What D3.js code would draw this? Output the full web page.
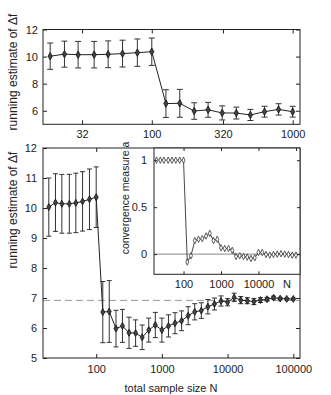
<!DOCTYPE html>
<html>
<head>
<meta charset="utf-8">
<script src="https://cdn.jsdelivr.net/npm/d3@7"></script>
<style>
  body { margin: 0; background: #fff; }
  svg text { font-family: "Liberation Sans", Arial, sans-serif; fill: #222; }
</style>
</head>
<body>
<div id="chart"></div>
<script>
// total sample size N
var sampleN = [19, 24, 30, 39, 49, 62, 79, 100,
  126, 158, 200, 251, 316, 398, 501, 631, 794, 1000,
  1259, 1585, 1995, 2512, 3162, 3981, 5012, 6310, 7943, 10000,
  12589, 15849, 19953, 25119, 31623, 39811, 50119, 63096, 79433, 100000];
// running estimate of delta f
var estimate = [10.03, 10.18, 10.14, 10.14, 10.17, 10.22, 10.29, 10.36,
  6.53, 6.55, 5.98, 6.07, 5.84, 5.83, 5.69, 5.93, 6.10, 5.93,
  6.07, 6.16, 6.24, 6.41, 6.54, 6.58, 6.71, 6.80, 6.90, 6.86,
  7.02, 6.93, 6.91, 6.88, 6.93, 6.96, 7.01, 6.98, 6.97, 6.97];
// error bar half widths
var errBar = [0.97, 0.96, 0.98, 0.98, 0.99, 0.99, 1.01, 1.01,
  1.02, 1.03, 0.61, 0.55, 0.52, 0.44, 0.41, 0.40, 0.42, 0.40,
  0.37, 0.35, 0.33, 0.30, 0.27, 0.26, 0.24, 0.20, 0.17, 0.12,
  0.14, 0.12, 0.10, 0.10, 0.08, 0.06, 0.05, 0.04, 0.03, 0.03];
// convergence measure a
var convA = [1, 1, 1, 1, 1, 1, 1, 1,
  -0.084, -0.018, 0.144, 0.158, 0.165, 0.193, 0.221, 0.144, 0.158, 0.067,
  0.06, 0.06, 0.039, -0.025, -0.018, -0.025, -0.032, -0.046, -0.039, 0.018,
  0.018, -0.004, -0.011, -0.004, 0, 0.004, 0, -0.004, -0.011, -0.011];
var referenceValue = 6.92;

var topXTicks = [32, 100, 320, 1000];
var topYTicks = [6, 8, 10, 12];
var mainXTicks = [100, 1000, 10000, 100000];
var mainYTicks = [5, 6, 7, 8, 9, 10, 11, 12];
var insetXTicks = [100, 1000, 10000];
var insetYTicks = [0, 0.5, 1];

var data = sampleN.map((n, i) => ({n: n, v: estimate[i], e: errBar[i], a: convA[i]}));

var width = 331, height = 395;
var svg = d3.select("#chart").append("svg")
    .attr("width", width)
    .attr("height", height);

var dark = "#222";
var diamond = d3.symbol().type(d3.symbolDiamond);

function box(g, x0, y0, x1, y1) {
    g.append("rect")
        .attr("x", x0).attr("y", y0)
        .attr("width", x1 - x0).attr("height", y1 - y0)
        .attr("fill", "none")
        .attr("stroke", dark)
        .attr("stroke-width", 1);
}

// draw an axis with inward ticks, mirrored on the opposite side
function axes(g, xScale, yScale, xTicks, yTicks, xFmt, yFmt, opt) {
    var x0 = xScale.range()[0], x1 = xScale.range()[1];
    var y0 = yScale.range()[1], y1 = yScale.range()[0];
    var ts = opt.tick;
    var bottom = g.append("g").attr("transform", `translate(0,${y1})`)
        .call(d3.axisBottom(xScale).tickValues(xTicks).tickFormat(xFmt).tickSize(-ts).tickPadding(opt.xPad));
    var topAx = g.append("g").attr("transform", `translate(0,${y0})`)
        .call(d3.axisTop(xScale).tickValues(opt.xTicksAll || xTicks).tickFormat("").tickSize(-ts));
    var left = g.append("g").attr("transform", `translate(${x0},0)`)
        .call(d3.axisLeft(yScale).tickValues(yTicks).tickFormat(yFmt).tickSize(-ts).tickPadding(opt.yPad));
    var right = g.append("g").attr("transform", `translate(${x1},0)`)
        .call(d3.axisRight(yScale).tickValues(yTicks).tickFormat("").tickSize(-ts));
    [bottom, topAx, left, right].forEach(a => {
        a.select(".domain").remove();
        a.selectAll("line").attr("stroke", dark);
        a.selectAll("text").attr("font-size", opt.font).attr("fill", dark)
            .attr("font-family", "Liberation Sans, Arial, sans-serif");
    });
    box(g, x0, y0, x1, y1);
}

function errorBars(g, rows, x, y, cap) {
    var eb = g.append("g").selectAll("g").data(rows).enter().append("g")
        .attr("stroke", "#333").attr("stroke-width", 1);
    eb.append("line")
        .attr("x1", d => x(d.n)).attr("x2", d => x(d.n))
        .attr("y1", d => y(d.v - d.e)).attr("y2", d => y(d.v + d.e));
    eb.append("line")
        .attr("x1", d => x(d.n) - cap).attr("x2", d => x(d.n) + cap)
        .attr("y1", d => y(d.v + d.e)).attr("y2", d => y(d.v + d.e));
    eb.append("line")
        .attr("x1", d => x(d.n) - cap).attr("x2", d => x(d.n) + cap)
        .attr("y1", d => y(d.v - d.e)).attr("y2", d => y(d.v - d.e));
}

// ---------- top panel ----------
var topData = data.filter(d => d.n <= 1000);
var xTop = d3.scaleLog().domain([16.9, 1127]).range([43, 300]);
var yTop = d3.scaleLinear().domain([5, 12]).range([124.3, 29.5]);
var gTop = svg.append("g");

errorBars(gTop, topData, xTop, yTop, 3);
gTop.append("path")
    .datum(topData)
    .attr("fill", "none")
    .attr("stroke", dark)
    .attr("stroke-width", 1)
    .attr("d", d3.line().x(d => xTop(d.n)).y(d => yTop(d.v)));
gTop.selectAll(".mk").data(topData).enter().append("path")
    .attr("transform", d => `translate(${xTop(d.n)},${yTop(d.v)})`)
    .attr("d", diamond.size(16))
    .attr("fill", "#444").attr("stroke", "#111").attr("stroke-width", 0.8);

axes(gTop, xTop, yTop, topXTicks, topYTicks, d3.format("d"), d3.format("d"),
    {tick: 4, xPad: 6, yPad: 5, font: "11px"});

gTop.append("text")
    .attr("transform", "translate(17,72) rotate(-90)")
    .attr("text-anchor", "middle")
    .attr("font-size", "12px")
    .text("running estimate of Δf");

// ---------- bottom panel ----------
var xMain = d3.scaleLog().domain([15.5, 126500]).range([43, 300]);
var yMain = d3.scaleLinear().domain([5, 12]).range([358, 148]);
var gMain = svg.append("g");

gMain.append("line")
    .attr("x1", 43).attr("x2", 300)
    .attr("y1", yMain(referenceValue)).attr("y2", yMain(referenceValue))
    .attr("stroke", "#9a9a9a").attr("stroke-width", 1)
    .attr("stroke-dasharray", "7,4");

errorBars(gMain, data, xMain, yMain, 2.5);
gMain.append("path")
    .datum(data)
    .attr("fill", "none")
    .attr("stroke", dark)
    .attr("stroke-width", 1)
    .attr("d", d3.line().x(d => xMain(d.n)).y(d => yMain(d.v)));
gMain.selectAll(".mk").data(data).enter().append("path")
    .attr("transform", d => `translate(${xMain(d.n)},${yMain(d.v)})`)
    .attr("d", diamond.size(14))
    .attr("fill", "#444").attr("stroke", "#111").attr("stroke-width", 0.8);

axes(gMain, xMain, yMain, mainXTicks, mainYTicks, d3.format("d"), d3.format("d"),
    {tick: 4, xPad: 7, yPad: 6, font: "11px"});

gMain.append("text")
    .attr("transform", "translate(17,210) rotate(-90)")
    .attr("text-anchor", "middle")
    .attr("font-size", "12px")
    .text("running estimate of Δf");

gMain.append("text")
    .attr("x", 171).attr("y", 392)
    .attr("text-anchor", "middle")
    .attr("font-size", "11px")
    .text("total sample size N");

// ---------- inset ----------
var xIn = d3.scaleLog().domain([16.3, 128000]).range([154, 300]);
var yIn = d3.scaleLinear().domain([-0.215, 1.13]).range([274.3, 148]);
var gIn = svg.append("g");

gIn.append("rect")
    .attr("x", 154).attr("y", 148)
    .attr("width", 146).attr("height", 126.3)
    .attr("fill", "#fff");

gIn.append("line")
    .attr("x1", 154).attr("x2", 300)
    .attr("y1", yIn(0)).attr("y2", yIn(0))
    .attr("stroke", "#888").attr("stroke-width", 1);

gIn.append("path")
    .datum(data)
    .attr("fill", "none")
    .attr("stroke", "#333")
    .attr("stroke-width", 0.9)
    .attr("d", d3.line().x(d => xIn(d.n)).y(d => yIn(d.a)));
gIn.selectAll(".mk").data(data).enter().append("path")
    .attr("transform", d => `translate(${xIn(d.n)},${yIn(d.a)}) scale(0.8,1)`)
    .attr("d", diamond.size(12))
    .attr("fill", "#fff").attr("stroke", "#222").attr("stroke-width", 0.8);

axes(gIn, xIn, yIn, insetXTicks, insetYTicks, d3.format("d"), d3.format("~g"),
    {tick: 3, xPad: 6, yPad: 7, font: "11px", xTicksAll: [100, 1000, 10000, 100000]});
gIn.append("text")
    .attr("x", 287).attr("y", 288)
    .attr("text-anchor", "middle")
    .attr("font-size", "11px")
    .text("N");

gIn.append("text")
    .attr("transform", "translate(129,198) rotate(-90)")
    .attr("text-anchor", "middle")
    .attr("font-size", "10.5px")
    .text("convergence measure a");
</script>
</body>
</html>
